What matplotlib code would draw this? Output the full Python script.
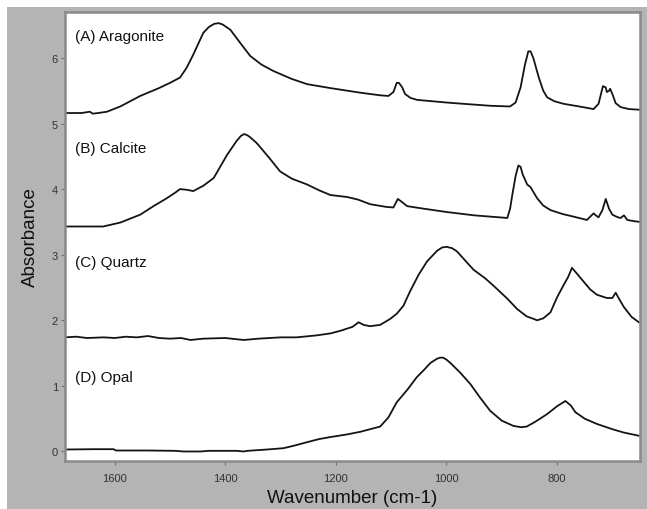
import matplotlib
matplotlib.use("Agg")
import matplotlib.pyplot as plt
from matplotlib.patches import Rectangle

plt.rcParams["font.family"] = ["Liberation Sans", "DejaVu Sans"]

# wavenumber (cm-1) / absorbance
aragonite_wn = [1690, 1660, 1645, 1640, 1630, 1614, 1590, 1554, 1520, 1500, 1482, 1470,
                1458, 1440, 1430, 1420, 1412, 1405, 1391, 1375, 1355, 1335, 1313, 1280,
                1252, 1210, 1156, 1120, 1105, 1096, 1090, 1086, 1080, 1075, 1065, 1053,
                1000, 969, 920, 885, 875, 866, 858, 852, 848, 843, 833, 825, 818, 805,
                788, 760, 734, 725, 717, 712, 710, 706, 704, 700, 694, 685, 670, 650]
aragonite_ab = [5.16, 5.16, 5.18, 5.15, 5.16, 5.18, 5.26, 5.42, 5.54, 5.62, 5.70, 5.85,
                6.05, 6.38, 6.47, 6.52, 6.53, 6.51, 6.43, 6.25, 6.03, 5.90, 5.80, 5.68,
                5.60, 5.54, 5.47, 5.43, 5.42, 5.48, 5.62, 5.62, 5.55, 5.45, 5.39, 5.36,
                5.32, 5.30, 5.27, 5.26, 5.32, 5.55, 5.90, 6.10, 6.10, 6.00, 5.70, 5.50,
                5.40, 5.34, 5.30, 5.26, 5.22, 5.30, 5.57, 5.55, 5.48, 5.50, 5.53, 5.45,
                5.31, 5.25, 5.22, 5.21]

calcite_wn = [1690, 1650, 1621, 1590, 1554, 1530, 1506, 1490, 1482, 1470, 1458, 1440,
              1421, 1410, 1397, 1380, 1372, 1366, 1360, 1355, 1343, 1320, 1301, 1280,
              1252, 1230, 1210, 1180, 1160, 1138, 1110, 1096, 1088, 1080, 1071, 1040,
              999, 950, 890, 885, 881, 875, 870, 866, 862, 854, 848, 836, 825, 812, 790,
              770, 746, 740, 734, 730, 725, 718, 712, 706, 700, 690, 685, 679, 673,
              660, 650]
calcite_ab = [3.43, 3.43, 3.43, 3.49, 3.61, 3.74, 3.86, 3.95, 4.00, 3.99, 3.97, 4.05,
              4.17, 4.33, 4.52, 4.73, 4.81, 4.84, 4.82, 4.79, 4.70, 4.47, 4.27, 4.16,
              4.07, 3.98, 3.91, 3.88, 3.84, 3.77, 3.73, 3.72, 3.85, 3.80, 3.74, 3.70,
              3.65, 3.60, 3.56, 3.70, 3.91, 4.20, 4.36, 4.34, 4.22, 4.07, 4.03, 3.86,
              3.75, 3.68, 3.62, 3.58, 3.53, 3.58, 3.63, 3.60, 3.57, 3.68, 3.85, 3.70,
              3.61, 3.57, 3.56, 3.60, 3.53, 3.51, 3.50]

quartz_wn = [1690, 1670, 1650, 1620, 1600, 1580, 1560, 1540, 1520, 1500, 1480, 1463,
             1440, 1400, 1367, 1340, 1300, 1271, 1235, 1210, 1192, 1170, 1159, 1150,
             1138, 1120, 1102, 1090, 1078, 1066, 1050, 1035, 1017, 1008, 1000, 990,
             981, 965, 951, 930, 914, 890, 872, 855, 842, 836, 825, 812, 800, 788,
             780, 773, 765, 752, 740, 728, 710, 700, 694, 688, 679, 665, 652]
quartz_ab = [1.74, 1.75, 1.73, 1.74, 1.73, 1.75, 1.74, 1.76, 1.73, 1.72, 1.73, 1.70,
             1.72, 1.73, 1.70, 1.72, 1.74, 1.74, 1.77, 1.80, 1.84, 1.90, 1.97, 1.93,
             1.91, 1.93, 2.02, 2.10, 2.22, 2.44, 2.70, 2.90, 3.06, 3.11, 3.12, 3.10,
             3.05, 2.90, 2.77, 2.64, 2.52, 2.33, 2.17, 2.06, 2.02, 2.00, 2.03, 2.12,
             2.35, 2.54, 2.66, 2.80, 2.72, 2.59, 2.47, 2.39, 2.34, 2.34, 2.42, 2.33,
             2.20, 2.05, 1.97]

opal_wn = [1690, 1640, 1602, 1598, 1540, 1490, 1476, 1445, 1430, 1380, 1367, 1360,
           1325, 1295, 1275, 1253, 1230, 1210, 1180, 1156, 1120, 1105, 1090, 1070,
           1054, 1040, 1029, 1018, 1012, 1006, 1000, 993, 975, 957, 940, 921, 900,
           879, 865, 855, 840, 818, 800, 785, 775, 767, 750, 728, 700, 680, 652]
opal_ab = [0.03, 0.035, 0.035, 0.015, 0.015, 0.01, 0.0, 0.0, 0.01, 0.01, 0.0, 0.01,
           0.03, 0.05, 0.09, 0.14, 0.19, 0.22, 0.26, 0.30, 0.38, 0.52, 0.75, 0.95,
           1.13, 1.25, 1.35, 1.41, 1.43, 1.43, 1.40, 1.35, 1.20, 1.03, 0.83, 0.62,
           0.47, 0.39, 0.37, 0.38, 0.45, 0.57, 0.69, 0.77, 0.70, 0.60, 0.50, 0.42,
           0.34, 0.29, 0.24]

labels = ["(A) Aragonite", "(B) Calcite", "(C) Quartz", "(D) Opal"]
label_y = [6.33, 4.63, 2.89, 1.13]
x_ticks = [1600, 1400, 1200, 1000, 800]
y_ticks = [0, 1, 2, 3, 4, 5, 6]

fig = plt.figure(figsize=(6.47, 5.10), dpi=100, facecolor="white")
# grey panel behind everything, thin white margin on top/left like the scan
fig.patches.append(Rectangle((7 / 647, 0), 1 - 7 / 647, 1 - 8 / 510,
                             transform=fig.transFigure, facecolor="#b4b4b4",
                             edgecolor="none", zorder=-10))
ax = fig.add_axes([65 / 647, 1 - 462 / 510, 575 / 647, 449 / 510])
ax.set_facecolor("white")

for wn, ab in [(aragonite_wn, aragonite_ab), (calcite_wn, calcite_ab),
               (quartz_wn, quartz_ab), (opal_wn, opal_ab)]:
    ax.plot(wn, ab, color="#141414", lw=1.3, solid_joinstyle="round")

for lab, y in zip(labels, label_y):
    ax.text(1672, y, lab, fontsize=11, va="center", ha="left", color="#111111")

ax.set_xlim(1690, 650)
ax.set_ylim(-0.145, 6.70)
ax.set_xticks(x_ticks)
ax.set_yticks(y_ticks)
ax.tick_params(direction="out", length=3, width=0.8, color="#707070",
               labelsize=8, labelcolor="#333333", pad=2)
ax.tick_params(axis="x", pad=6)
for sp in ax.spines.values():
    sp.set_color("#8a8a8a")
    sp.set_linewidth(1.8)

ax.set_xlabel("Wavenumber (cm-1)", fontsize=13.5, color="#111111", labelpad=4)
ax.set_ylabel("Absorbance", fontsize=13.5, color="#111111", labelpad=9)

fig.savefig("out.png", dpi=100, facecolor=fig.get_facecolor())
